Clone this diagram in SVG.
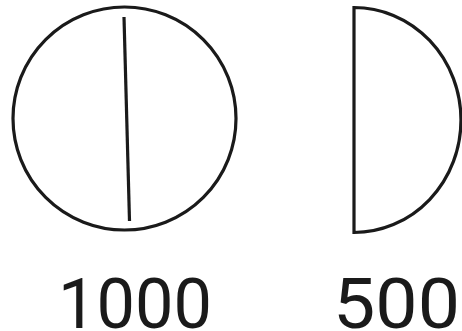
<svg xmlns="http://www.w3.org/2000/svg" width="462" height="331" viewBox="0 0 462 331">
<style>
.s{fill:none;stroke:#1a1a1a;stroke-width:3.2}
.t{font-family:Roboto,"Liberation Sans",sans-serif;font-weight:400;font-size:71px;fill:#1a1a1a}
</style>
<rect width="462" height="331" fill="#fff"/>
<g id="full">
<circle class="s" cx="124.5" cy="118.5" r="111.5"/>
<line class="s" x1="124" y1="17" x2="129.5" y2="221" stroke-width="2.6"/>
<text class="t" x="58" y="327.5" textLength="154" lengthAdjust="spacingAndGlyphs">1000</text>
</g>
<g id="half">
<path class="s" d="M354 7.5 A107 112.5 0 0 1 354 232.5 Z"/>
<text class="t" x="333" y="327.5" textLength="127" lengthAdjust="spacingAndGlyphs">500</text>
</g>
</svg>
